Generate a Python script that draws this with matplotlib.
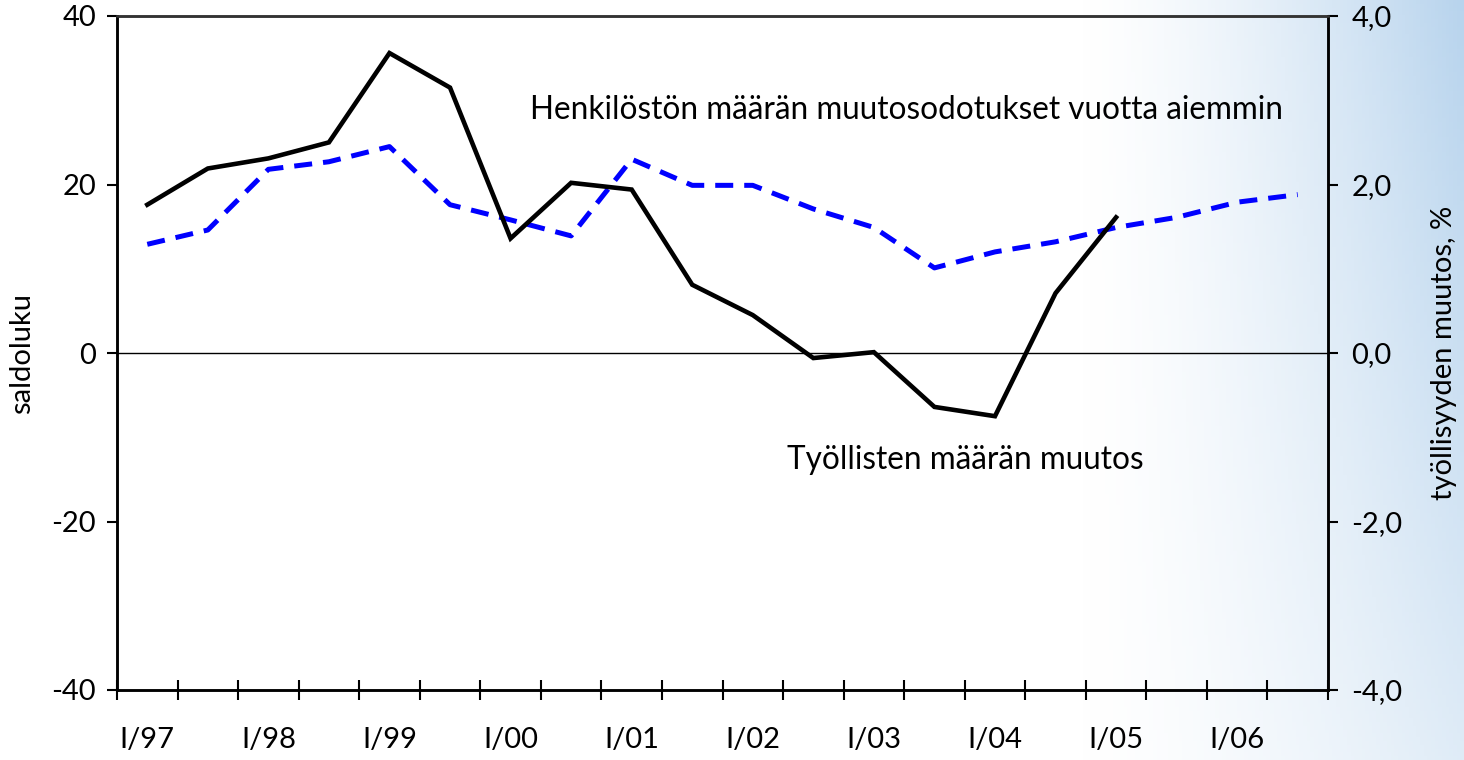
import numpy as np
import matplotlib
matplotlib.use("Agg")
import matplotlib.pyplot as plt

periods = ["I/97", "II/97", "I/98", "II/98", "I/99", "II/99", "I/00", "II/00",
           "I/01", "II/01", "I/02", "II/02", "I/03", "II/03", "I/04", "II/04",
           "I/05", "II/05", "I/06", "II/06"]
odotukset = [12.9, 14.6, 21.8, 22.7, 24.5, 17.6, 15.8, 13.9, 23.0, 19.9,
             19.9, 17.1, 14.9, 10.1, 12.0, 13.2, 14.9, 16.1, 17.9, 18.8]
tyollisyys = [1.76, 2.19, 2.31, 2.50, 3.56, 3.15, 1.36, 2.02, 1.94, 0.81,
              0.45, -0.06, 0.01, -0.64, -0.75, 0.71, 1.61]
left_ticks = [-40, -20, 0, 20, 40]
right_ticks = [-4.0, -2.0, 0.0, 2.0, 4.0]
right_labels = ["-4,0", "-2,0", "0,0", "2,0", "4,0"]

plt.rcParams['font.family'] = ['Lato', 'DejaVu Sans']
FS = 21

W, H = 1464, 760
fig = plt.figure(figsize=(W / 100, H / 100), dpi=100)

# background gradient
bg = fig.add_axes([0, 0, 1, 1], zorder=-10)
xx = np.linspace(0, 1, 400)[None, :]
yy = np.linspace(0, 1, 200)[:, None]
a = np.clip((xx - 0.74) / 0.26, 0, 1) ** 1.4 * (1 - 0.55 * yy)
white = np.array([1.0, 1.0, 1.0])
blue = np.array([0.72, 0.83, 0.93])
img = white[None, None, :] * (1 - a[..., None]) + blue[None, None, :] * a[..., None]
bg.imshow(img, aspect='auto', extent=[0, 1, 1, 0])
bg.axis('off')

ax = fig.add_axes([117 / W, 1 - 690 / H, (1328 - 117) / W, (690 - 16) / H])
ax.set_facecolor('none')
ax2 = ax.twinx()

x = np.arange(len(periods))
ax.plot(x, odotukset, color='#0000ff', lw=3.6, linestyle=(0, (3.6, 2.2)),
        dash_capstyle='butt', zorder=3)
ax2.plot(x[:len(tyollisyys)], tyollisyys, color='black', lw=3.3, zorder=4,
         solid_joinstyle='miter')
ax.axhline(0, color='black', lw=1.0, zorder=2)

ax.set_xlim(-0.5, len(periods) - 0.5)
ax.set_ylim(-40, 40)
ax2.set_ylim(-4, 4)

ax.set_yticks(left_ticks)
ax.set_yticklabels([str(v) for v in left_ticks], fontsize=FS)
ax2.set_yticks(right_ticks)
ax2.set_yticklabels(right_labels, fontsize=FS)
ax.tick_params(axis='y', direction='out', length=7, width=1.5, pad=8)
ax2.tick_params(axis='y', direction='out', length=7, width=1.5, pad=10)

ax.set_xticks(x[::2])
ax.set_xticklabels(periods[::2], fontsize=FS)
ax.set_xticks(np.arange(-0.5, len(periods), 1.0), minor=True)
ax.tick_params(axis='x', which='major', length=0, pad=27)
ax.tick_params(axis='x', which='minor', direction='inout', length=14, width=1.5)

for a_ in (ax, ax2):
    for s in ['left', 'right', 'bottom']:
        a_.spines[s].set_linewidth(1.8)
    a_.spines['top'].set_linewidth(1.8)
    a_.spines['top'].set_color('#333333')

ax.set_ylabel("saldoluku", fontsize=FS, labelpad=12)
ax2.set_ylabel("työllisyyden muutos, %", fontsize=FS, labelpad=20)

ax.text(530, H - 110, "Henkilöstön määrän muutosodotukset vuotta aiemmin",
        transform=None, fontsize=22.7, va='center', ha='left')
ax.text(787, H - 460, "Työllisten määrän muutos", transform=None,
        fontsize=22.7, va='center', ha='left')

fig.savefig("out.png", dpi=100)
